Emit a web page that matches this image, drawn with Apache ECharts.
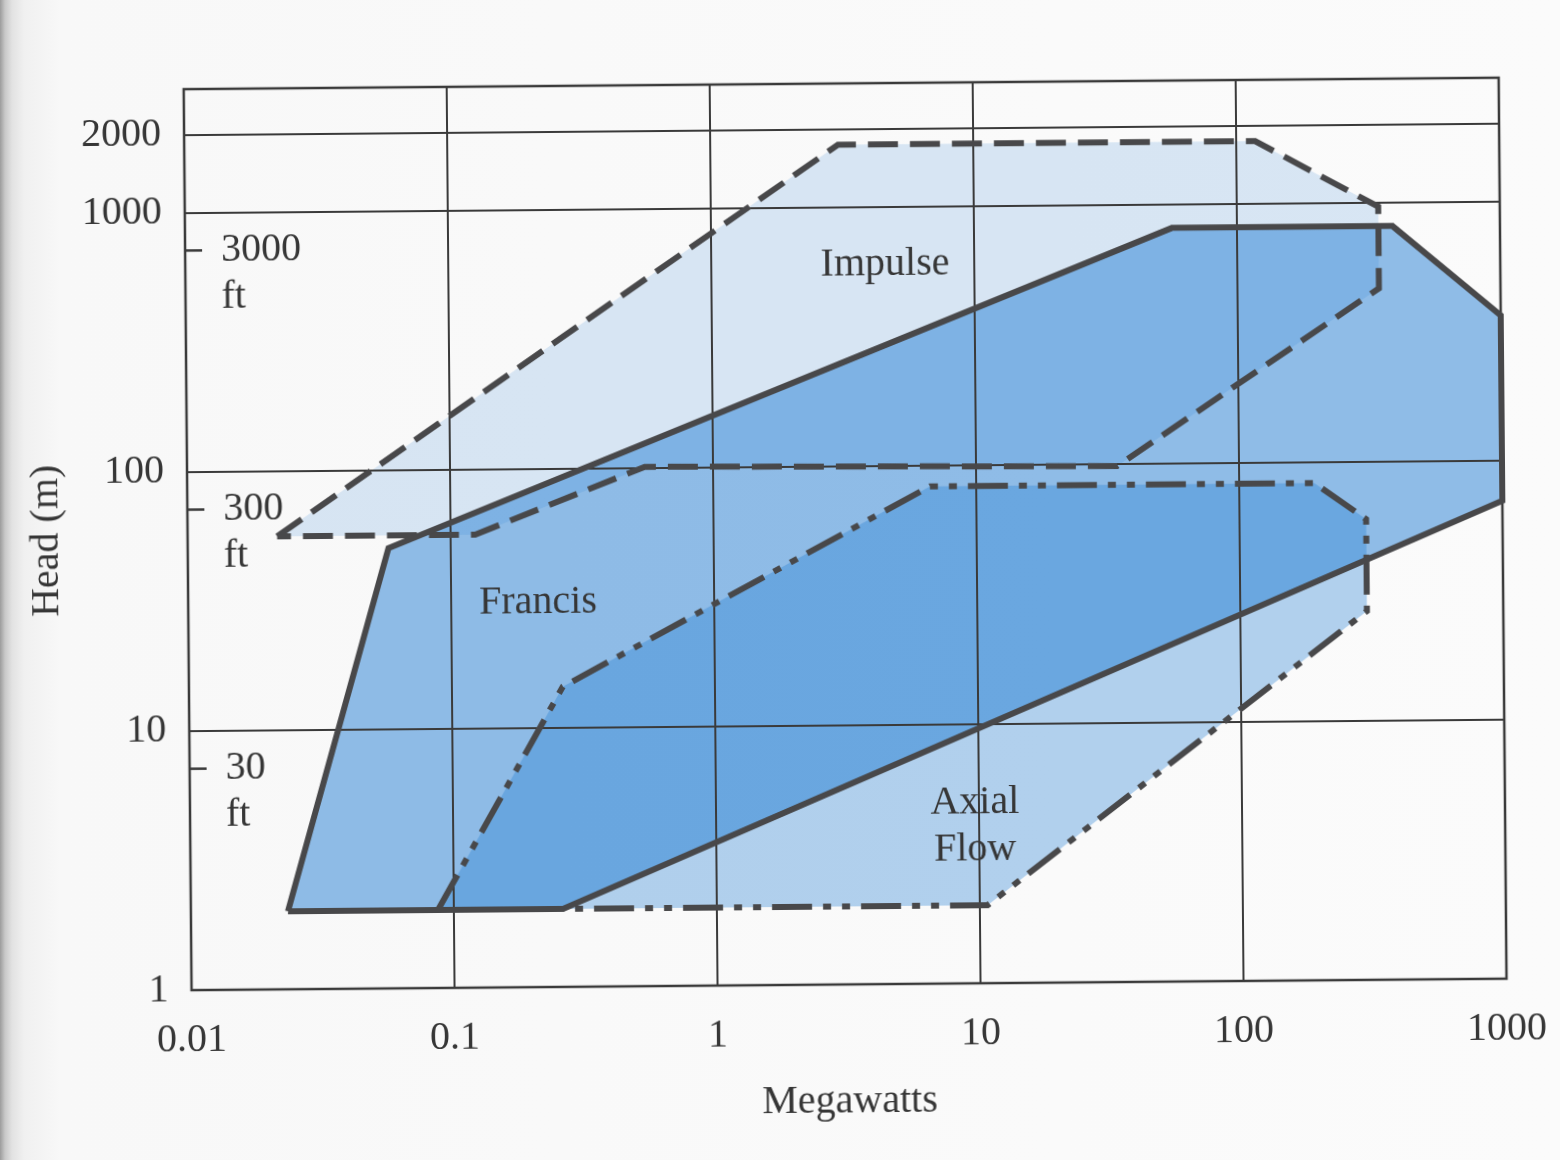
<!DOCTYPE html>
<html>
<head>
<meta charset="utf-8">
<title>Turbine application ranges</title>
<script src="https://cdn.jsdelivr.net/npm/echarts@6/dist/echarts.min.js"></script>
<style>
  html, body { margin: 0; padding: 0; }
  body {
    width: 1560px; height: 1160px; overflow: hidden;
    background: linear-gradient(to right, #9c9c9c 0px, #c8c8c8 5px, #e2e2e2 12px, #f0f0f0 24px, #f8f8f8 60px, #fbfbfb 100%);
  }
  #chart { width: 1560px; height: 1160px; transform: rotate(-0.5deg); transform-origin: 50% 50%; }
</style>
</head>
<body>
<div id="chart"></div>
<script>
// Operating envelopes of the three turbine families: power (MW) vs head (m)
const impulseMW   = [0.0219, 3.06, 118, 345, 345, 34.4, 0.55, 0.124];
const impulseHead = [56, 1740, 1740, 963, 466, 98, 101, 56];

const francisMW   = [0.0234, 0.058, 56.6, 390, 1000, 1000, 0.26];
const francisHead = [2, 50, 810, 810, 363, 70, 2];

const axialMW     = [0.087, 0.264, 6.67, 193, 303, 303, 10.7];
const axialHead   = [2, 14.4, 83, 83, 60, 26.5, 2];

// Axis ticks
const xTicks      = [0.01, 0.1, 1, 10, 100, 1000];
const xTickLabels = ['0.01', '0.1', '1', '10', '100', '1000'];
const yTicks      = [1, 10, 100, 1000, 2000];
const yTickLabels = ['1', '10', '100', '1000', '2000'];

// Secondary head marks in feet, placed along the head axis
const feetHeads  = [715, 71.5, 7.15];
const feetLabels = ['3000', '300', '30'];

// Region names and their anchor points
const regionNames     = ['Impulse', 'Francis', 'Axial\nFlow'];
const regionLabelMW   = [4.58, 0.214, 9.64];
const regionLabelHead = [599, 30.5, 4.03];

const FONT = '"Liberation Serif", "Times New Roman", serif';
const TEXT = '#363636';
const RULE = '#3a3a3a';
const EDGE = '#48484a';

function findLabel(v, ticks, labels) {
  const i = ticks.findIndex(t => Math.abs(t - v) / t < 1e-6);
  return i >= 0 ? labels[i] : '';
}

function fillSeries(name, xs, ys, fill) {
  return {
    type: 'custom', name, z: 2, silent: true, animation: false,
    coordinateSystem: 'cartesian2d',
    data: xs.map((x, i) => [x, ys[i]]),
    renderItem: (params, api) => {
      if (params.dataIndex !== 0) return null;
      const pts = xs.map((x, i) => api.coord([x, ys[i]]));
      return { type: 'polygon', shape: { points: pts }, style: { fill } };
    }
  };
}

function outlineSeries(name, xs, ys, dash, extra) {
  const pts = xs.map((x, i) => [x, ys[i]]);
  pts.push([xs[0], ys[0]]);
  return Object.assign({
    type: 'line', name, z: 4, silent: true, animation: false,
    symbol: 'none', showSymbol: false, data: pts,
    lineStyle: { color: EDGE, width: 6, type: dash, cap: 'butt', join: 'miter' }
  }, extra || {});
}

const chart = echarts.init(document.getElementById('chart'), null, { renderer: 'canvas' });

chart.setOption({
  backgroundColor: 'transparent',
  animation: false,
  grid: {
    show: true, z: 3, left: 188, right: 57, top: 84, bottom: 175,
    backgroundColor: 'transparent', borderColor: RULE, borderWidth: 2.5
  },
  xAxis: {
    type: 'log', logBase: 10, min: 0.01, max: 1000, z: 3,
    name: 'Megawatts', nameLocation: 'middle', nameGap: 94,
    nameTextStyle: { fontFamily: FONT, fontSize: 40, color: TEXT, lineHeight: 46 },
    axisLine: { show: false }, axisTick: { show: false },
    axisLabel: {
      margin: 30, fontFamily: FONT, fontSize: 40, lineHeight: 40, color: TEXT,
      formatter: v => findLabel(v, xTicks, xTickLabels)
    },
    splitLine: { show: true, lineStyle: { color: RULE, width: 2 } }
  },
  yAxis: {
    type: 'log', logBase: 10, min: 1, max: 3000, z: 3,
    name: 'Head (m)', nameLocation: 'middle', nameRotate: 90, nameGap: 118,
    nameTextStyle: { fontFamily: FONT, fontSize: 40, color: TEXT, lineHeight: 46 },
    axisLine: { show: false }, axisTick: { show: false },
    axisLabel: {
      margin: 23, fontFamily: FONT, fontSize: 40, lineHeight: 40, color: TEXT,
      formatter: v => findLabel(v, yTicks.slice(0, 4), yTickLabels.slice(0, 4))
    },
    splitLine: { show: true, lineStyle: { color: RULE, width: 2 } }
  },
  series: [
    fillSeries('Impulse', impulseMW, impulseHead, 'rgba(35,125,212,0.16)'),
    fillSeries('Francis', francisMW, francisHead, 'rgba(35,125,212,0.50)'),
    fillSeries('Axial Flow', axialMW, axialHead, 'rgba(35,125,212,0.34)'),

    outlineSeries('Impulse edge', impulseMW, impulseHead, [30, 12], {
      markLine: {
        silent: true, symbol: 'none', animation: false,
        lineStyle: { color: RULE, width: 2, type: 'solid' },
        label: {
          show: true, position: 'start', distance: 23,
          formatter: yTickLabels[4], fontFamily: FONT, fontSize: 40, color: TEXT
        },
        data: [{ yAxis: yTicks[4] }]
      }
    }),
    outlineSeries('Axial edge', axialMW, axialHead, [40, 11, 8, 11, 8, 11]),
    outlineSeries('Francis edge', francisMW, francisHead, 'solid'),

    {
      type: 'custom', name: 'feet', z: 5, silent: true, animation: false,
      coordinateSystem: 'cartesian2d',
      data: feetHeads.map(h => [xTicks[0], h]),
      renderItem: (params, api) => {
        const p = api.coord([api.value(0), api.value(1)]);
        return {
          type: 'group',
          children: [
            { type: 'line', shape: { x1: p[0], y1: p[1], x2: p[0] + 17, y2: p[1] },
              style: { stroke: RULE, lineWidth: 2.5 } },
            { type: 'text', x: p[0] + 36, y: p[1] - 23.5,
              style: { text: feetLabels[params.dataIndex] + '\nft', fontFamily: FONT, fontSize: 40,
                       lineHeight: 47, fill: TEXT, align: 'left', verticalAlign: 'top' } }
          ]
        };
      }
    },
    {
      type: 'custom', name: 'names', z: 5, silent: true, animation: false,
      coordinateSystem: 'cartesian2d',
      data: regionNames.map((n, i) => [regionLabelMW[i], regionLabelHead[i]]),
      renderItem: (params, api) => {
        const p = api.coord([api.value(0), api.value(1)]);
        return {
          type: 'text', x: p[0], y: p[1],
          style: { text: regionNames[params.dataIndex], fontFamily: FONT, fontSize: 40,
                   lineHeight: 47, fill: TEXT, align: 'center', verticalAlign: 'middle' }
        };
      }
    }
  ]
});
</script>
</body>
</html>
